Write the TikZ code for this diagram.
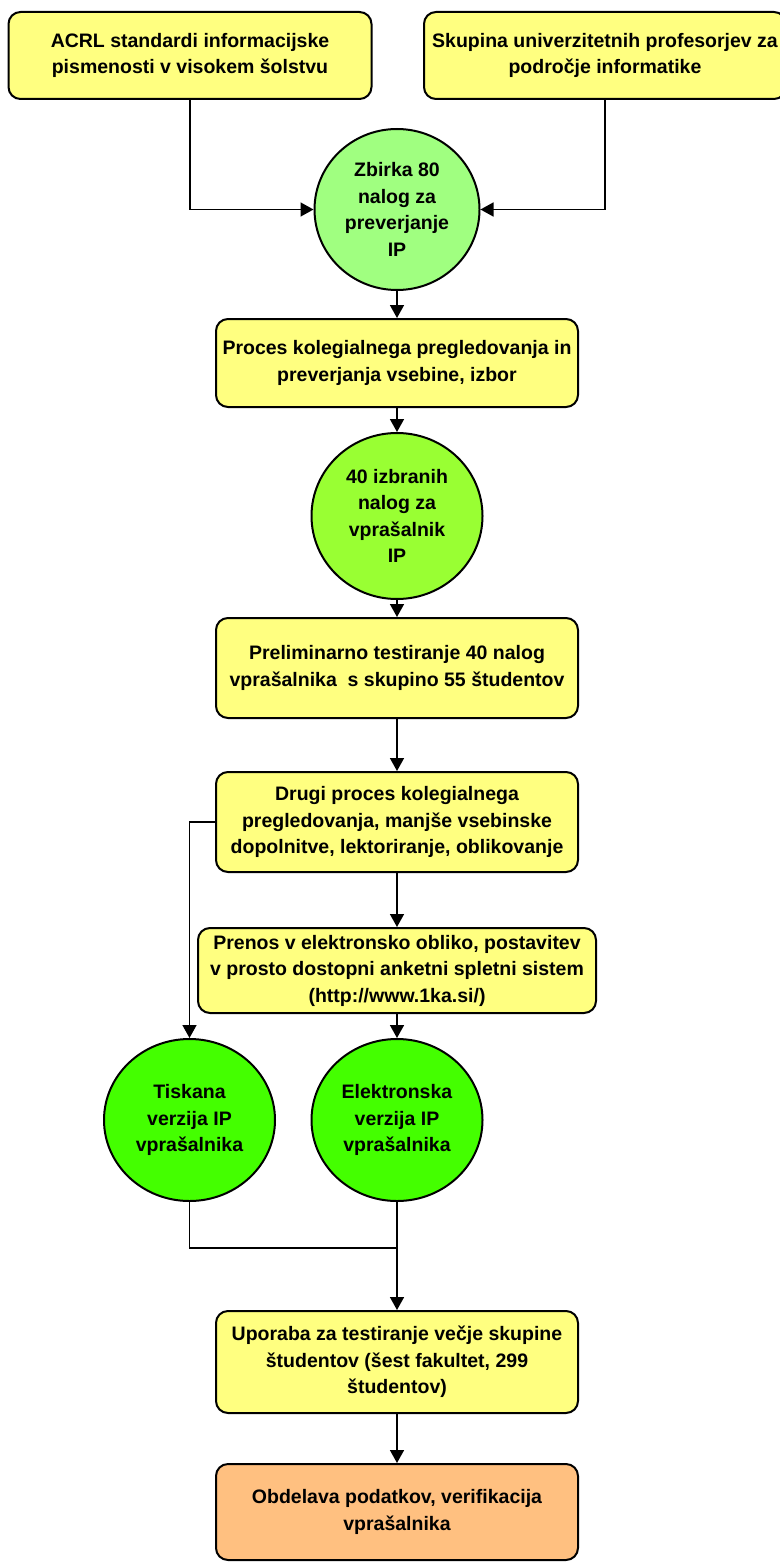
\documentclass[tikz,border=0pt]{standalone}
\usepackage{fontspec}
\setmainfont{Liberation Sans}
\usetikzlibrary{arrows.meta,shapes.geometric}
\definecolor{boxyellow}{RGB}{255,255,128}
\definecolor{greenA}{RGB}{160,255,128}
\definecolor{greenB}{RGB}{153,255,51}
\definecolor{greenC}{RGB}{68,255,0}
\definecolor{boxorange}{RGB}{255,192,128}
\tikzset{
  txt/.style={font=\bfseries\fontsize{19.5}{26.5}\selectfont, align=center, text=black},
  stepbox/.style={txt, draw=black, line width=2pt, rounded corners=12pt, fill=boxyellow, inner sep=0pt},
  bubble/.style={txt, ellipse, draw=black, line width=2pt, inner sep=0pt},
  conn/.style={line width=1.6pt, draw=black},
  arr/.style={conn, -{Triangle[length=13pt,width=14pt]}},
}
\begin{document}
\begin{tikzpicture}[x=1pt,y=-1pt]
\useasboundingbox (0,0) rectangle (779,1562);
% top sources
\node[stepbox, minimum width=363pt, minimum height=87pt] (acrl) at (190,55.5)
  {ACRL standardi informacijske\\pismenosti v visokem šolstvu};
\node[stepbox, minimum width=362pt, minimum height=87pt] (prof) at (605,55.5)
  {Skupina univerzitetnih profesorjev za\\področje informatike};
% first collection
\node[bubble, fill=greenA, minimum width=165pt, minimum height=161pt] (zbirka) at (397,209.5)
  {Zbirka 80\\nalog za\\preverjanje\\IP};
\node[stepbox, minimum width=362pt, minimum height=88pt] (proces) at (397,363)
  {Proces kolegialnega pregledovanja in\\preverjanja vsebine, izbor};
\node[bubble, fill=greenB, minimum width=171pt, minimum height=166pt] (izbranih) at (397,516)
  {40 izbranih\\nalog za\\vprašalnik\\IP};
\node[stepbox, minimum width=362pt, minimum height=100pt] (prelim) at (397,668)
  {Preliminarno testiranje 40 nalog\\vprašalnika\ \ s skupino 55 študentov};
\node[stepbox, minimum width=362pt, minimum height=100pt] (drugi) at (397,822)
  {Drugi proces kolegialnega\\pregledovanja, manjše vsebinske\\dopolnitve, lektoriranje, oblikovanje};
\node[stepbox, minimum width=398pt, minimum height=85pt] (prenos) at (397,970.5)
  {Prenos v elektronsko obliko, postavitev\\v prosto dostopni anketni spletni sistem\\(http://www.1ka.si/)};
\node[bubble, fill=greenC, minimum width=171pt, minimum height=162pt] (tiskana) at (189.5,1120)
  {Tiskana\\verzija IP\\vprašalnika};
\node[bubble, fill=greenC, minimum width=171pt, minimum height=162pt] (elektronska) at (397,1120)
  {Elektronska\\verzija IP\\vprašalnika};
\node[stepbox, minimum width=362pt, minimum height=102pt] (uporaba) at (397,1362)
  {Uporaba za testiranje večje skupine\\študentov (šest fakultet, 299\\študentov)};
\node[stepbox, fill=boxorange, minimum width=362pt, minimum height=96pt] (obdelava) at (397,1512)
  {Obdelava podatkov, verifikacija\\vprašalnika};
\coordinate (join) at (397,1248);
% connectors
\draw[arr] (acrl.south) |- (zbirka.west);
\draw[arr] (prof.south) |- (zbirka.east);
\draw[arr] (zbirka.south) -- (proces.north);
\draw[arr] (proces.south) -- (izbranih.north);
\draw[arr] (izbranih.south) -- (prelim.north);
\draw[arr] (prelim.south) -- (drugi.north);
\draw[arr] (drugi.south) -- (prenos.north);
\draw[arr] (prenos.south) -- (elektronska.north);
\draw[arr] (drugi.west) -| (tiskana.north);
\draw[conn] (tiskana.south) |- (join);
\draw[arr] (elektronska.south) -- (uporaba.north);
\draw[arr] (uporaba.south) -- (obdelava.north);
\end{tikzpicture}
\end{document}
